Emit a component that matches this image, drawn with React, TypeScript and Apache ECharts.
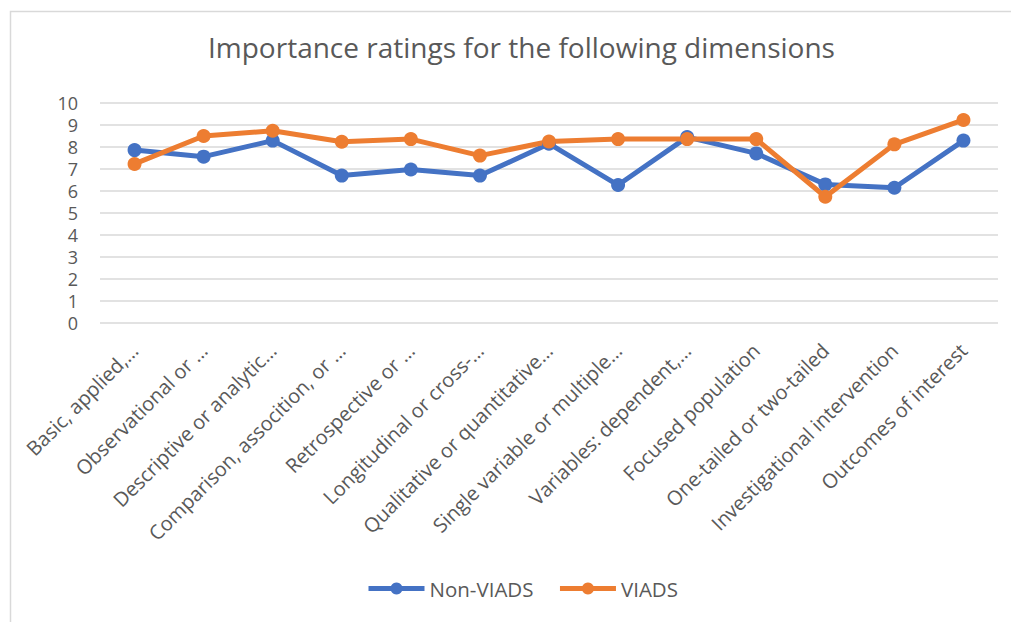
import React, { useEffect, useRef } from "react";
import * as echarts from "echarts";

const categories = [
  "Basic, applied,…",
  "Observational or …",
  "Descriptive or analytic…",
  "Comparison, assocition, or …",
  "Retrospective or …",
  "Longitudinal or cross-…",
  "Qualitative or quantitative…",
  "Single variable or multiple…",
  "Variables: dependent,…",
  "Focused population",
  "One-tailed or two-tailed",
  "Investigational intervention",
  "Outcomes of interest",
];
const nonViads = [7.86, 7.56, 8.29, 6.7, 6.98, 6.7, 8.15, 6.27, 8.45, 7.71, 6.3, 6.15, 8.29];
const viads = [7.23, 8.5, 8.74, 8.24, 8.36, 7.61, 8.25, 8.36, 8.36, 8.36, 5.74, 8.12, 9.23];
const yTicks = [0, 1, 2, 3, 4, 5, 6, 7, 8, 9, 10];

const FONT = "'Open Sans', 'Liberation Sans', sans-serif";
const TXT = "#595959";

export default function App() {
  const ref = useRef<HTMLDivElement>(null);
  useEffect(() => {
    document.body.style.margin = "0";
    const chart = echarts.init(ref.current!, null, { renderer: "svg" });
    chart.setOption({
      animation: false,
      backgroundColor: "#ffffff",
      textStyle: { fontFamily: FONT },
      title: {
        text: "Importance ratings for the following dimensions",
        left: 203,
        top: 28,
        textStyle: { fontFamily: FONT, fontSize: 28, fontWeight: "normal", color: TXT },
      },
      legend: {
        bottom: 18,
        left: 361,
        itemWidth: 56,
        itemHeight: 15,
        itemGap: 24,
        lineStyle: { width: 5 },
        textStyle: { fontFamily: FONT, fontSize: 20.5, color: TXT },
        data: ["Non-VIADS", "VIADS"],
      },
      graphic: [
        {
          type: "rect",
          shape: { x: 10.5, y: 11.5, width: 1030, height: 640 },
          style: { fill: "none", stroke: "#d9d9d9", lineWidth: 1.5 },
          silent: true,
          z: -1,
        },
      ],
      grid: { left: 100, right: 13, top: 103, bottom: 299, containLabel: false },
      xAxis: {
        type: "category",
        data: categories,
        boundaryGap: true,
        axisLine: { show: false },
        axisTick: { show: false },
        axisLabel: {
          interval: 0,
          rotate: 45,
          margin: 24,
          padding: [16, 0, 0, 0],
          fontFamily: FONT,
          fontSize: 20,
          color: TXT,
        },
      },
      yAxis: {
        type: "value",
        min: yTicks[0],
        max: yTicks[yTicks.length - 1],
        interval: 1,
        axisLine: { show: false },
        axisTick: { show: false },
        axisLabel: { margin: 22, fontFamily: FONT, fontSize: 18, lineHeight: 18, color: TXT },
        splitLine: { lineStyle: { color: "#d9d9d9", width: 1.5 } },
      },
      series: [
        {
          name: "Non-VIADS",
          type: "line",
          data: nonViads,
          symbol: "circle",
          symbolSize: 14,
          itemStyle: { color: "#4472C4" },
          lineStyle: { color: "#4472C4", width: 5 },
        },
        {
          name: "VIADS",
          type: "line",
          data: viads,
          symbol: "circle",
          symbolSize: 14,
          itemStyle: { color: "#ED7D31" },
          lineStyle: { color: "#ED7D31", width: 5 },
        },
      ],
    });
    return () => chart.dispose();
  }, []);
  return <div ref={ref} style={{ width: 1011, height: 622 }} />;
}
